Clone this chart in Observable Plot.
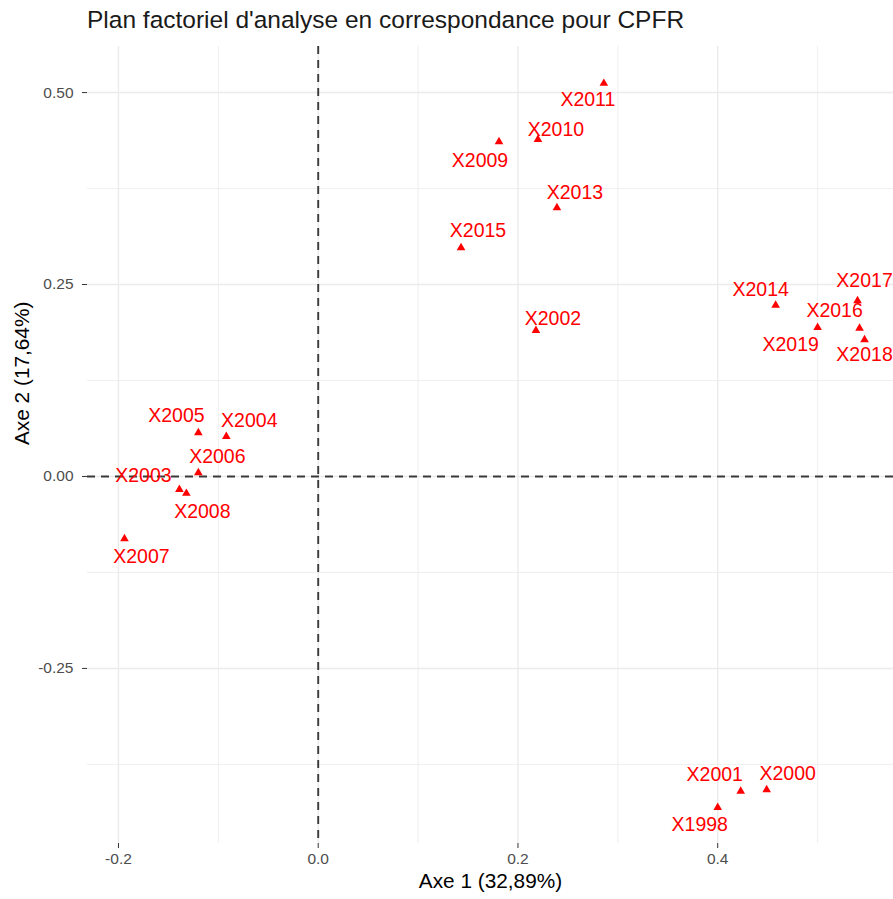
<!DOCTYPE html>
<html><head><meta charset="utf-8">
<script src="https://cdn.jsdelivr.net/npm/d3@7"></script>
<script src="https://cdn.jsdelivr.net/npm/@observablehq/plot@0.6"></script>
<style>
body{margin:0;background:#fff;}
#title{font-family:"Liberation Sans",Arial,sans-serif;font-size:24.5px;color:#1a1a1a;height:40px;line-height:40px;padding-left:87px;white-space:nowrap;}
#chart svg{display:block;}
</style></head><body>
<div id="title">Plan factoriel d'analyse en correspondance pour CPFR</div>
<div id="chart"></div>
<script>
const years = ["X2011","X2010","X2009","X2013","X2015","X2002","X2014","X2017","X2019","X2016","X2018","X2005","X2004","X2006","X2003","X2008","X2007","X2001","X2000","X1998"];
const axe1 = [0.286,0.220,0.181,0.239,0.143,0.218,0.458,0.540,0.500,0.542,0.547,-0.120,-0.092,-0.120,-0.139,-0.132,-0.194,0.423,0.449,0.400];
const axe2 = [0.512,0.439,0.436,0.350,0.298,0.190,0.223,0.229,0.194,0.193,0.178,0.057,0.052,0.005,-0.017,-0.022,-0.081,-0.410,-0.408,-0.431];
const labelAxe1 = [0.270,0.238,0.162,0.257,0.160,0.235,0.443,0.547,0.473,0.517,0.547,-0.142,-0.069,-0.101,-0.175,-0.116,-0.177,0.397,0.470,0.382];
const labelAxe2 = [0.491,0.451,0.411,0.370,0.320,0.206,0.243,0.255,0.172,0.216,0.158,0.079,0.072,0.026,0.001,-0.046,-0.104,-0.389,-0.387,-0.454];
const xTicks = [-0.2,0,0.2,0.4];
const yTicks = [-0.25,0,0.25,0.5];
const xMinor = [-0.1,0.1,0.3,0.5];
const yMinor = [-0.375,-0.125,0.125,0.375];
const xTitle = "Axe 1 (32,89%)";
const yTitle = "Axe 2 (17,64%)";

const data = years.map((y,i)=>({year:y,x:axe1[i],y:axe2[i],lx:labelAxe1[i],ly:labelAxe2[i]}));
const font = '"Liberation Sans", Arial, sans-serif';
const plot = Plot.plot({
  width: 893, height: 859,
  marginTop: 6, marginBottom: 56, marginLeft: 87, marginRight: 0,
  x: {domain: [-0.231, 0.576]},
  y: {domain: [-0.478, 0.560]},
  style: {fontFamily: font, background: "#fff"},
  marks: [
    Plot.ruleX(xMinor, {stroke:"#ebebeb", strokeWidth:0.8}),
    Plot.ruleY(yMinor, {stroke:"#ebebeb", strokeWidth:0.8}),
    Plot.ruleX(xTicks, {stroke:"#ebebeb", strokeWidth:1.4}),
    Plot.ruleY(yTicks, {stroke:"#ebebeb", strokeWidth:1.4}),
    Plot.axisX({ticks: xTicks, tickSize:5, tickPadding:4, tickFormat: d=>d.toFixed(1), fontSize:15.5, fill:"#4d4d4d", stroke:"#333", label:null}),
    Plot.axisY({ticks: yTicks, tickSize:5, tickPadding:9, tickFormat: d=>d.toFixed(2), fontSize:15.5, fill:"#4d4d4d", stroke:"#333", label:null}),
    Plot.text([xTitle], {text: d=>d, frameAnchor:"bottom", dy:44, fontSize:20.8, fill:"#000"}),
    Plot.text([yTitle], {text: d=>d, frameAnchor:"left", dx:-65, rotate:-90, fontSize:20.8, fill:"#000"}),
    Plot.ruleX([0], {stroke:"#3a3a3a", strokeWidth:1.9, strokeDasharray:"8,6"}),
    Plot.ruleY([0], {stroke:"#3a3a3a", strokeWidth:1.9, strokeDasharray:"8,6"}),
    Plot.dot(data, {x:"x", y:"y", symbol:"triangle", r:3.2, fill:"#ff0000", stroke:null}),
    Plot.text(data, {x:"lx", y:"ly", text:"year", fill:"#ff0000", fontSize:19.5})
  ]
});
document.getElementById("chart").appendChild(plot);
</script>
</body></html>
